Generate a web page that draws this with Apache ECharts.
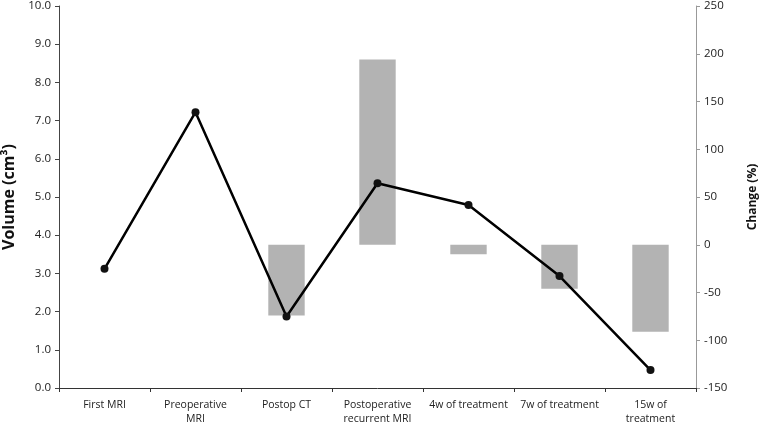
<!DOCTYPE html>
<html>
<head>
<meta charset="utf-8">
<script src="https://cdn.jsdelivr.net/npm/echarts@6/dist/echarts.min.js"></script>
<style>
  html, body { margin: 0; padding: 0; background: #fff; }
  #chart-container { width: 761px; height: 425px; }
</style>
</head>
<body>
<div id="chart-container"></div>
<script>
var categories = ['First MRI', 'Preoperative\nMRI', 'Postop CT', 'Postoperative\nrecurrent MRI',
  '4w of treatment', '7w of treatment', '15w of\ntreatment'];
var volume = [3.12, 7.22, 1.87, 5.36, 4.79, 2.93, 0.47];
var change = ['-', '-', -74, 194, -10, -46, -91];
var volumeTicks = { min: 0, max: 10, interval: 1 };
var changeTicks = { min: -150, max: 250, interval: 50 };

var dom = document.getElementById('chart-container');
var myChart = echarts.init(dom, null, { renderer: 'canvas' });

var font = 'Open Sans';

var option = {
  animation: false,
  grid: { left: 59, right: 65, top: 6, bottom: 37, containLabel: false, outerBoundsMode: 'none' },
  xAxis: {
    type: 'category',
    data: categories,
    axisLine: { onZero: false, lineStyle: { color: '#333', width: 1 } },
    axisTick: { show: true, length: 4, lineStyle: { color: '#333' } },
    axisLabel: {
      interval: 0,
      margin: 10,
      fontFamily: font,
      fontSize: 10.5,
      lineHeight: 14,
      color: '#222'
    }
  },
  yAxis: [
    {
      type: 'value',
      min: volumeTicks.min,
      max: volumeTicks.max,
      interval: volumeTicks.interval,
      name: 'Volume (cm³)',
      nameLocation: 'middle',
      nameGap: 39,
      nameTextStyle: { fontFamily: font, fontSize: 16, fontWeight: 'bold', color: '#111' },
      axisLine: { show: true, lineStyle: { color: '#444' } },
      axisTick: { show: true, length: 4, lineStyle: { color: '#444' } },
      splitLine: { show: false },
      axisLabel: {
        fontFamily: font,
        fontSize: 11.5,
        color: '#222',
        margin: 8,
        formatter: function (v) { return v.toFixed(1); }
      }
    },
    {
      type: 'value',
      position: 'right',
      min: changeTicks.min,
      max: changeTicks.max,
      interval: changeTicks.interval,
      name: 'Change (%)',
      nameLocation: 'middle',
      nameGap: 51,
      nameRotate: 90,
      nameTextStyle: { fontFamily: font, fontSize: 12, fontWeight: 'bold', color: '#111' },
      axisLine: { show: true, lineStyle: { color: '#999' } },
      axisTick: { show: true, length: 4, lineStyle: { color: '#999' } },
      splitLine: { show: false },
      axisLabel: { fontFamily: font, fontSize: 11.5, color: '#222', margin: 8 }
    }
  ],
  series: [
    {
      type: 'bar',
      yAxisIndex: 1,
      data: change,
      barWidth: '40%',
      itemStyle: { color: '#b3b3b3' }
    },
    {
      type: 'line',
      yAxisIndex: 0,
      data: volume,
      symbol: 'circle',
      symbolSize: 8,
      lineStyle: { color: '#000', width: 2.5 },
      itemStyle: { color: '#111' },
      z: 5
    }
  ]
};

myChart.setOption(option);
window.addEventListener('resize', myChart.resize);
</script>
</body>
</html>
